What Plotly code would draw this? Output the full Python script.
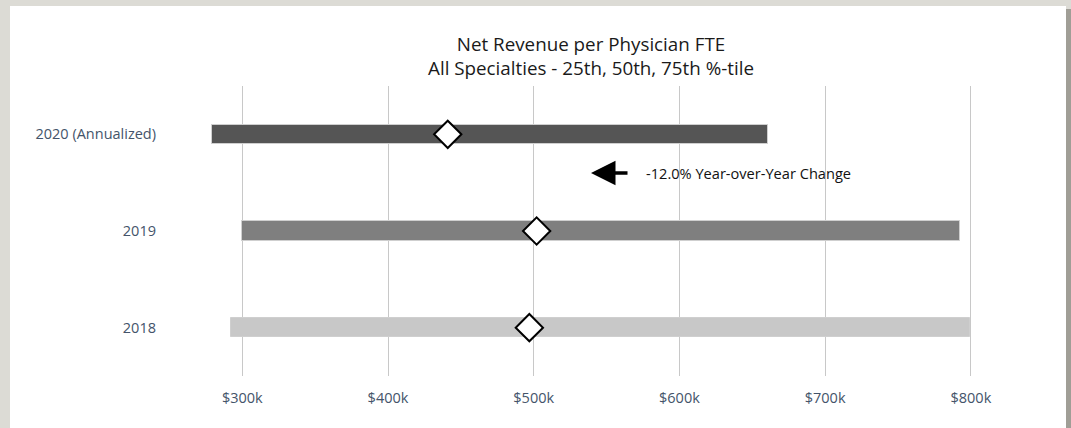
import plotly.graph_objects as go

# ---- data (USD, thousands) ----
years = ["2018", "2019", "2020 (Annualized)"]
p25 = [292.5, 299.5, 279.5]
p50 = [497.0, 502.0, 441.0]
p75 = [799.5, 792.5, 661.0]
bar_colors = ["#c8c8c8", "#7f7f7f", "#555555"]
tick_vals = [300, 400, 500, 600, 700, 800]
tick_text = ["$300k", "$400k", "$500k", "$600k", "$700k", "$800k"]
yoy_text = "-12.0% Year-over-Year Change"

W, H = 1071, 428
ml, mr, mt, mb = 184, 71, 86, 52
pw, ph = W - ml - mr, H - mt - mb

def px2paper_x(px):
    return (px - ml) / pw

def px2paper_y(py):
    return (H - mb - py) / ph

fig = go.Figure()

fig.add_trace(go.Bar(
    y=years,
    x=[b - a for a, b in zip(p25, p75)],
    base=p25,
    orientation="h",
    width=0.2,
    marker=dict(color=bar_colors, line=dict(color="#cfcfcf", width=1)),
    hoverinfo="skip",
    showlegend=False,
))

fig.add_trace(go.Scatter(
    y=years,
    x=p50,
    mode="markers",
    marker=dict(symbol="diamond", size=21, color="white",
                line=dict(color="black", width=2)),
    showlegend=False,
))

shapes = [
    dict(type="rect", xref="paper", yref="paper", layer="below",
         x0=px2paper_x(1066), x1=px2paper_x(1072), y0=px2paper_y(H + 2), y1=px2paper_y(9),
         fillcolor="#a09e96", line=dict(width=0)),
    dict(type="rect", xref="paper", yref="paper", layer="below",
         x0=px2paper_x(10), x1=px2paper_x(1066), y0=px2paper_y(H + 5), y1=px2paper_y(6),
         fillcolor="white", line=dict(width=0)),
]

annotations = [
    dict(xref="paper", yref="paper", x=px2paper_x(591), y=px2paper_y(173),
         ax=38, ay=0,
         text="", showarrow=True, arrowhead=2, arrowsize=1.4, arrowwidth=3.5,
         arrowcolor="black"),
    dict(xref="paper", yref="paper", x=px2paper_x(644), y=px2paper_y(173),
         xanchor="left", yanchor="middle", text=yoy_text, showarrow=False,
         font=dict(family="Open Sans", size=14.6, color="#111111")),
]

fig.update_layout(
    width=W, height=H,
    margin=dict(l=ml, r=mr, t=mt, b=mb),
    paper_bgcolor="#dcdbd5",
    plot_bgcolor="rgba(0,0,0,0)",
    title=dict(
        text="Net Revenue per Physician FTE<br>All Specialties - 25th, 50th, 75th %-tile",
        x=591 / W, xanchor="center",
        y=1 - 51 / H, yanchor="middle",
        font=dict(family="Open Sans", size=18.8, color="#1a1a1a"),
    ),
    font=dict(family="Open Sans", size=14.5, color="#44546a"),
    xaxis=dict(
        range=[260, 820],
        tickvals=tick_vals, ticktext=tick_text,
        showgrid=True, gridcolor="#c8c8c8", gridwidth=1,
        zeroline=False, showline=False, ticks="",
        ticklabelstandoff=11,
        tickfont=dict(family="Open Sans", size=14.5, color="#44546a"),
        fixedrange=True,
    ),
    yaxis=dict(
        categoryorder="array", categoryarray=years,
        range=[-0.5, 2.5],
        showgrid=False, zeroline=False, showline=False, ticks="",
        ticklabelstandoff=27,
        tickfont=dict(family="Open Sans", size=14.5, color="#44546a"),
        fixedrange=True,
    ),
    shapes=shapes,
    annotations=annotations,
    bargap=0,
)

fig.write_html(
    "out.html",
    config={"displayModeBar": False},
    post_script="document.body.style.margin='0';document.body.style.background='#dcdbd5';",
)
